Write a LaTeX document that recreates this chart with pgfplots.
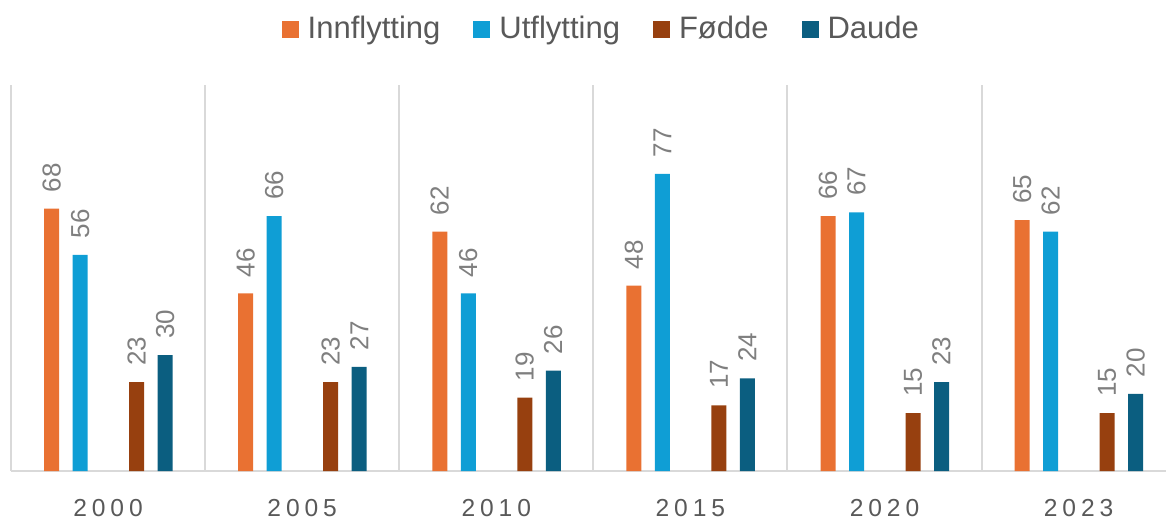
\documentclass[border=0pt]{standalone}
\usepackage{pgfplots}
\pgfplotsset{compat=1.18}
\usepackage{fontspec}
\setmainfont{Liberation Sans}
\definecolor{cInn}{HTML}{E97132}
\definecolor{cUt}{HTML}{0F9ED5}
\definecolor{cFo}{HTML}{97400F}
\definecolor{cDa}{HTML}{0B5E80}
\definecolor{gridc}{HTML}{D9D9D9}
\definecolor{txt}{HTML}{595959}
\definecolor{lbl}{HTML}{7F7F7F}
\begin{document}
\begin{tikzpicture}
\useasboundingbox (-5.5pt,-24.5pt) rectangle (577.5pt,235.5pt);
\begin{axis}[
  at={(0,0)}, anchor=south west,
  scale only axis, width=577.5pt, height=193pt,
  xmin=-0.5, xmax=5.45, ymin=0, ymax=100,
  ybar, bar width=7.5pt,
  axis y line=none,
  axis x line=bottom,
  x axis line style={-,draw=gridc,line width=1pt},
  ytick=\empty,
  xtick={0,1,2,3,4,5},
  xticklabels={2000,2005,2010,2015,2020,2023},
  major tick length=0pt,
  xticklabel style={font=\addfontfeatures{LetterSpace=20}\fontsize{12.3pt}{14pt}\selectfont, text=txt, yshift=-10.5pt},
  extra x ticks={-0.5,0.5,1.5,2.5,3.5,4.5},
  extra x tick labels={},
  extra x tick style={grid=major, major grid style={draw=gridc, line width=1pt}},
  legend style={at={(0.512,1.145)}, anchor=center, draw=none, fill=none,
    legend columns=4, font=\fontsize{15.5pt}{18pt}\selectfont, text=txt,
    /tikz/every even column/.append style={column sep=14.5pt},
    /tikz/every odd column/.append style={column sep=2.5pt}},
  legend image code/.code={\fill[#1] (0pt,-4.25pt) rectangle (8.5pt,4.25pt);},
  nodes near coords,
  /pgf/number format/assume math mode=true,
  every node near coord/.append style={rotate=90, anchor=west, inner sep=0pt, inner xsep=8pt,
    font=\fontsize{13pt}{15pt}\selectfont, text=lbl},
  clip=false,
]
\addplot[fill=cInn, draw=none, bar shift=-28.25pt] coordinates {(0,68) (1,46) (2,62) (3,48) (4,66) (5,65)};
\addplot[fill=cUt, draw=none, bar shift=-14pt] coordinates {(0,56) (1,66) (2,46) (3,77) (4,67) (5,62)};
\addplot[fill=cFo, draw=none, bar shift=14.25pt] coordinates {(0,23) (1,23) (2,19) (3,17) (4,15) (5,15)};
\addplot[fill=cDa, draw=none, bar shift=28.5pt] coordinates {(0,30) (1,27) (2,26) (3,24) (4,23) (5,20)};
\legend{Innflytting,Utflytting,Fødde,Daude}
\end{axis}
\end{tikzpicture}
\end{document}
